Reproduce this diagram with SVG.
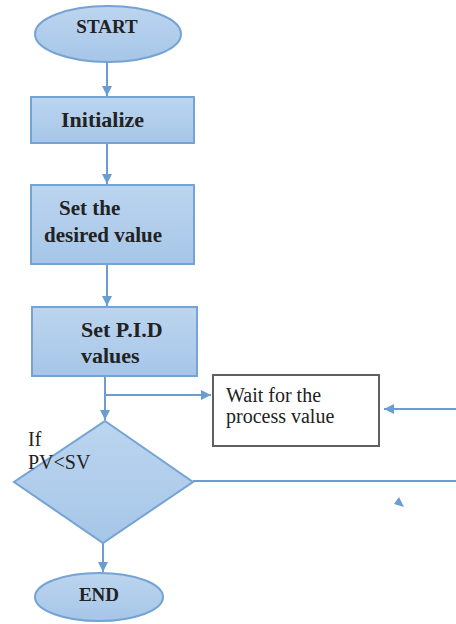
<svg xmlns="http://www.w3.org/2000/svg" width="456" height="624" viewBox="0 0 456 624">
  <defs>
    <linearGradient id="blueFill" x1="0" y1="0" x2="0" y2="1">
      <stop offset="0" stop-color="#bcd5ef"/>
      <stop offset="1" stop-color="#a6c6e8"/>
    </linearGradient>
    <marker id="arrow" viewBox="0 0 10 10" refX="10" refY="5" markerWidth="10" markerHeight="10" markerUnits="userSpaceOnUse" orient="auto">
      <path d="M0,0 L10,5 L0,10 Z" fill="#6b9dd2"/>
    </marker>
  </defs>
  <style>
    .shape { fill: url(#blueFill); stroke: #74a3d4; stroke-width: 2; }
    .plain { fill: #ffffff; stroke: #606060; stroke-width: 2; }
    .link { fill: none; stroke: #6b9dd2; stroke-width: 2; }
    text { font-family: 'Liberation Serif', 'Times New Roman', Times, serif; fill: #222222; }
    .bold { font-weight: bold; }
  </style>
  <rect width="456" height="624" fill="#ffffff"/>

  <g id="connectors">
    <line class="link" x1="107" y1="62" x2="107" y2="96" marker-end="url(#arrow)"/>
    <line class="link" x1="107" y1="143" x2="107" y2="184" marker-end="url(#arrow)"/>
    <line class="link" x1="107" y1="264" x2="107" y2="306" marker-end="url(#arrow)"/>
    <line class="link" x1="105" y1="376" x2="105" y2="420" marker-end="url(#arrow)"/>
    <line class="link" x1="105" y1="395" x2="211" y2="395" marker-end="url(#arrow)"/>
    <line class="link" x1="456" y1="409" x2="384" y2="409" marker-end="url(#arrow)"/>
    <line class="link" x1="193" y1="481" x2="456" y2="481"/>
    <line class="link" x1="103" y1="543" x2="103" y2="572" marker-end="url(#arrow)"/>
    <path d="M394,504 L404,507 L399,497 Z" fill="#6b9dd2"/>
  </g>

  <g id="start">
    <ellipse class="shape" cx="108" cy="34" rx="73" ry="28"/>
    <text class="bold" x="107" y="33" font-family="Liberation Serif, serif" font-size="19" text-anchor="middle">START</text>
  </g>

  <g id="initialize">
    <rect class="shape" x="31" y="97" width="163" height="46"/>
    <text class="bold" x="61" y="127" font-family="Liberation Serif, serif" font-size="22">Initialize</text>
  </g>

  <g id="desired-value">
    <rect class="shape" x="31" y="185" width="163" height="79"/>
    <text class="bold" font-family="Liberation Serif, serif" font-size="21">
      <tspan x="59" y="215">Set the</tspan>
      <tspan x="44" y="242">desired value</tspan>
    </text>
  </g>

  <g id="pid-values">
    <rect class="shape" x="32" y="307" width="165" height="69"/>
    <text class="bold" font-family="Liberation Serif, serif" font-size="22">
      <tspan x="81" y="337">Set P.I.D</tspan>
      <tspan x="81" y="363">values</tspan>
    </text>
  </g>

  <g id="wait">
    <rect class="plain" x="213" y="375" width="166" height="71"/>
    <text font-family="Liberation Serif, serif" font-size="20">
      <tspan x="226" y="402">Wait for the</tspan>
      <tspan x="226" y="423">process value</tspan>
    </text>
  </g>

  <g id="decision">
    <polygon class="shape" points="105,421 193,482 103,543 14,482"/>
    <text font-family="Liberation Serif, serif" font-size="20">
      <tspan x="28" y="446">If</tspan>
      <tspan x="28" y="469">PV&lt;SV</tspan>
    </text>
  </g>

  <g id="end">
    <ellipse class="shape" cx="99" cy="597" rx="64" ry="24"/>
    <text class="bold" x="99" y="601" font-family="Liberation Serif, serif" font-size="19" text-anchor="middle">END</text>
  </g>
</svg>
